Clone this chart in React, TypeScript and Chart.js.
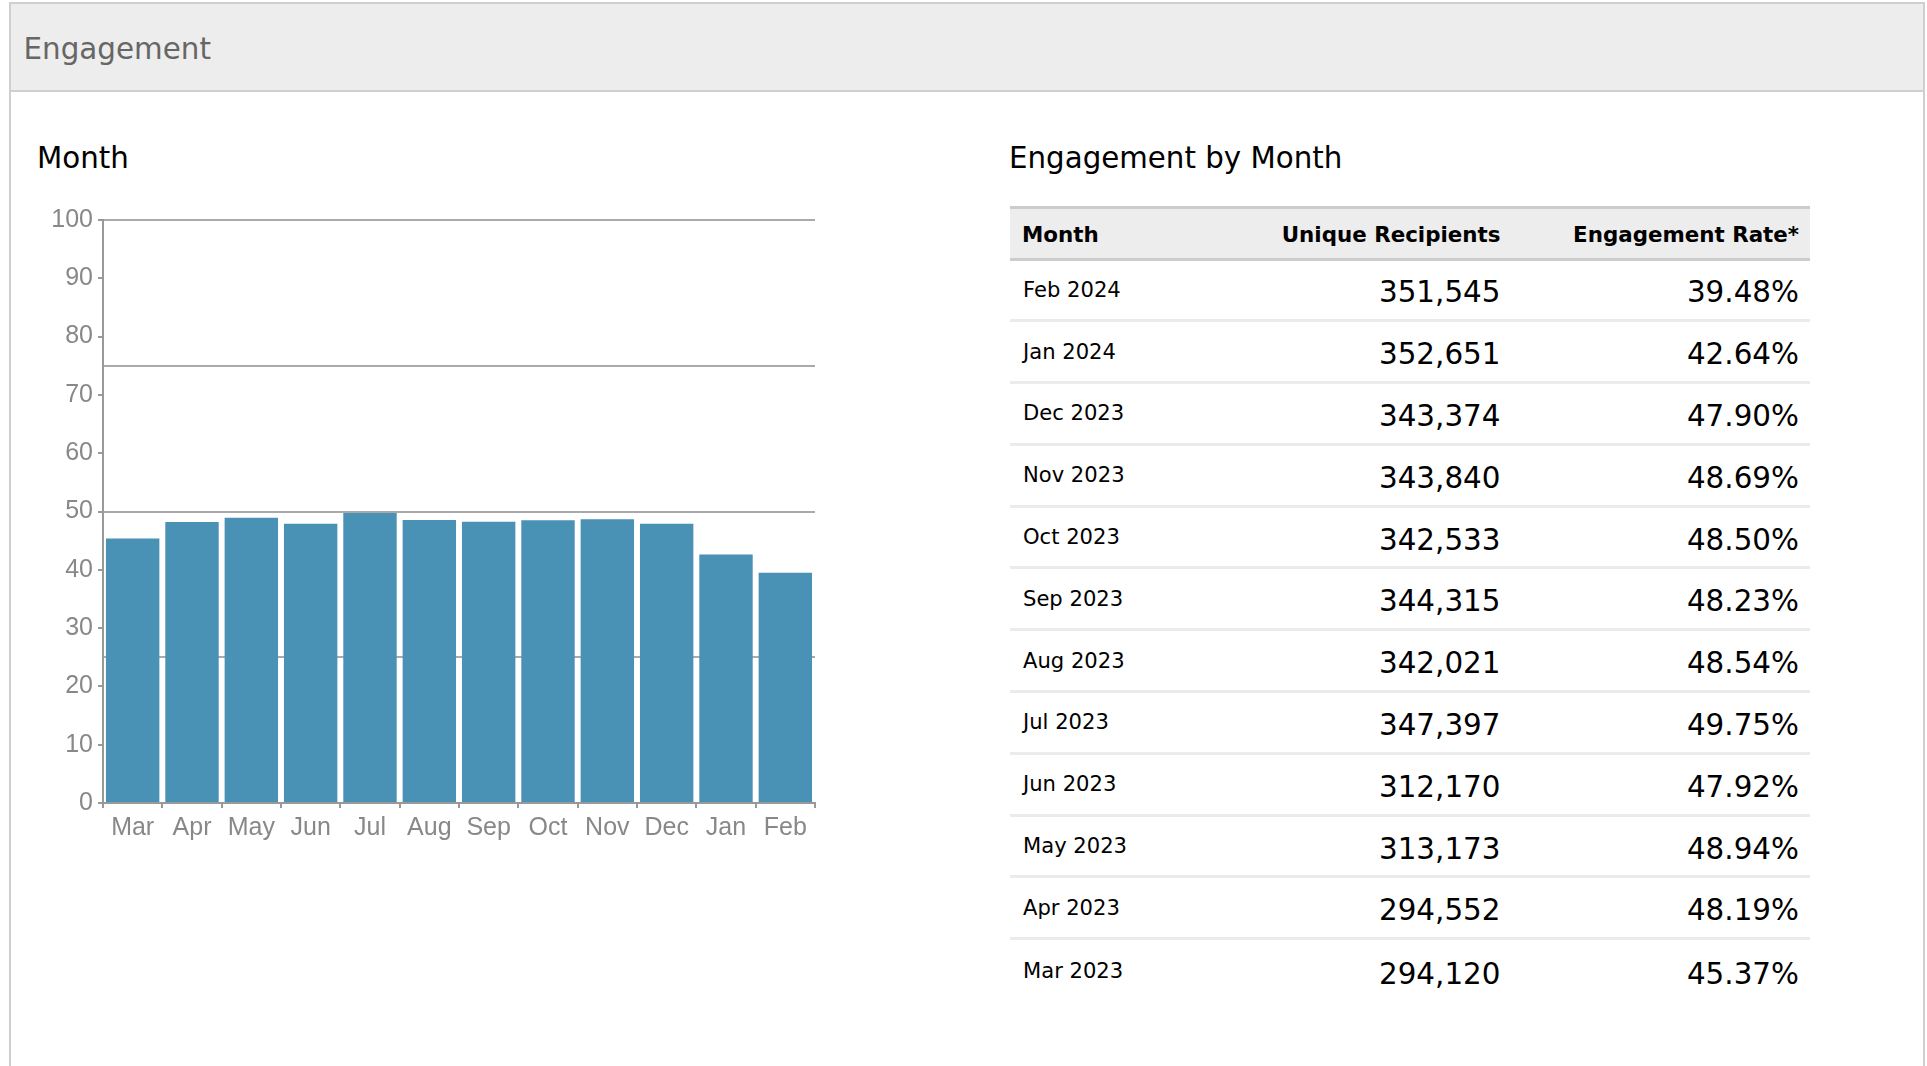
import React, { useEffect, useRef } from "react";
import { Chart, registerables } from "chart.js";

Chart.register(...registerables);

// ---- data ----
const chartMonths = ["Mar", "Apr", "May", "Jun", "Jul", "Aug", "Sep", "Oct", "Nov", "Dec", "Jan", "Feb"];
const engagementRates = [45.37, 48.19, 48.94, 47.92, 49.75, 48.54, 48.23, 48.5, 48.69, 47.9, 42.64, 39.48];

const tableMonths = [
  "Feb 2024", "Jan 2024", "Dec 2023", "Nov 2023", "Oct 2023", "Sep 2023",
  "Aug 2023", "Jul 2023", "Jun 2023", "May 2023", "Apr 2023", "Mar 2023",
];
const uniqueRecipients = [351545, 352651, 343374, 343840, 342533, 344315, 342021, 347397, 312170, 313173, 294552, 294120];
const tableRates = [39.48, 42.64, 47.9, 48.69, 48.5, 48.23, 48.54, 49.75, 47.92, 48.94, 48.19, 45.37];

const yMin = 0;
const yMax = 100;
const yStep = 10;
const gridStep = 25;

const FONT = "'DejaVu Sans', sans-serif";

function BarChart() {
  const ref = useRef<HTMLCanvasElement | null>(null);
  useEffect(() => {
    if (!ref.current) return;
    const tickFont = { family: "'Liberation Sans', Arial, sans-serif", size: 25 };
    const chart = new Chart(ref.current, {
      type: "bar",
      data: {
        labels: chartMonths,
        datasets: [
          {
            data: engagementRates,
            backgroundColor: "#4a91b6",
            borderWidth: 0,
            barPercentage: 0.9,
            categoryPercentage: 1,
            yAxisID: "y",
          },
        ],
      },
      options: {
        animation: false,
        responsive: false,
        maintainAspectRatio: false,
        layout: { padding: { top: 19, right: 35, bottom: 10, left: 1 } },
        plugins: { legend: { display: false }, tooltip: { enabled: false } },
        scales: {
          x: {
            grid: { display: true, drawOnChartArea: false, drawTicks: true, tickLength: 5, color: "#999", lineWidth: 2 },
            border: { display: true, color: "#999", width: 2 },
            ticks: { color: "#888", font: tickFont, padding: 5, maxRotation: 0, autoSkip: false },
            afterFit: (s: any) => { s.height = 67; },
          },
          y: {
            min: yMin,
            max: yMax,
            position: "left",
            grid: { display: true, drawOnChartArea: false, drawTicks: true, tickLength: 5, color: "#999", lineWidth: 2 },
            border: { display: true, color: "#999", width: 2 },
            ticks: { stepSize: yStep, color: "#888", font: tickFont, padding: 5 },
            afterFit: (s: any) => { s.width = 72; },
          },
          yg: {
            min: yMin,
            max: yMax,
            position: "left",
            grid: { display: true, drawOnChartArea: true, drawTicks: false, color: "#aaa", lineWidth: 2 },
            border: { display: false },
            ticks: { display: false, stepSize: gridStep },
            afterFit: (s: any) => { s.width = 0; },
          },
        },
      },
    });
    return () => chart.destroy();
  }, []);
  return (
    <canvas
      ref={ref}
      width={820}
      height={680}
      style={{ position: "absolute", left: 30, top: 200, width: 820, height: 680 }}
    />
  );
}

export default function App() {
  const rowH = 61.8;
  return (
    <div style={{ position: "absolute", left: 0, top: 0, width: 1927, height: 1066, overflow: "hidden", background: "#fff", fontFamily: FONT }}>
      {/* panel */}
      <div style={{ position: "absolute", left: 9, top: 2, width: 1912, height: 1100, border: "2px solid #cfcfcf", boxSizing: "content-box" }} />
      <div style={{ position: "absolute", left: 11, top: 4, width: 1912, height: 86, background: "#ededed", borderBottom: "2px solid #cfcfcf" }} />
      <div style={{ position: "absolute", left: 23.5, top: 34.5, fontSize: 29.4, lineHeight: 1, color: "#666", whiteSpace: "nowrap" }}>Engagement</div>

      {/* chart title */}
      <div style={{ position: "absolute", left: 37, top: 143.5, fontSize: 29.3, lineHeight: 1, color: "#000", whiteSpace: "nowrap" }}>Month</div>
      <BarChart />

      {/* table title */}
      <div style={{ position: "absolute", left: 1009, top: 143.5, fontSize: 29.3, lineHeight: 1, color: "#000", whiteSpace: "nowrap" }}>Engagement by Month</div>

      {/* table */}
      <div style={{ position: "absolute", left: 1010, top: 206, width: 800 }}>
        <div style={{ display: "flex", alignItems: "center", height: 54.5, paddingTop: 2, boxSizing: "border-box", background: "#ededed", borderTop: "3px solid #cccccc", borderBottom: "3px solid #cccccc", fontWeight: "bold", fontSize: 21.4, color: "#000" }}>
          <div style={{ width: 260, paddingLeft: 12, boxSizing: "border-box" }}>Month</div>
          <div style={{ width: 240, paddingRight: 9.5, boxSizing: "border-box", textAlign: "right" }}>Unique Recipients</div>
          <div style={{ width: 300, paddingRight: 11, boxSizing: "border-box", textAlign: "right" }}>Engagement Rate*</div>
        </div>
        {tableMonths.map((m, i) => (
          <div key={m} style={{ display: "flex", alignItems: "center", height: rowH, boxSizing: "border-box", borderBottom: i < tableMonths.length - 1 ? "3px solid #ebebeb" : "none", color: "#000" }}>
            <div style={{ width: 260, paddingLeft: 13, boxSizing: "border-box", fontSize: 21.1, marginTop: -1 }}>{m}</div>
            <div style={{ width: 240, paddingRight: 9.5, boxSizing: "border-box", textAlign: "right", fontSize: 29.4, marginTop: 5 }}>
              {uniqueRecipients[i].toLocaleString("en-US")}
            </div>
            <div style={{ width: 300, paddingRight: 11, boxSizing: "border-box", textAlign: "right", fontSize: 29.4, marginTop: 5 }}>
              {tableRates[i].toFixed(2)}%
            </div>
          </div>
        ))}
      </div>
    </div>
  );
}
